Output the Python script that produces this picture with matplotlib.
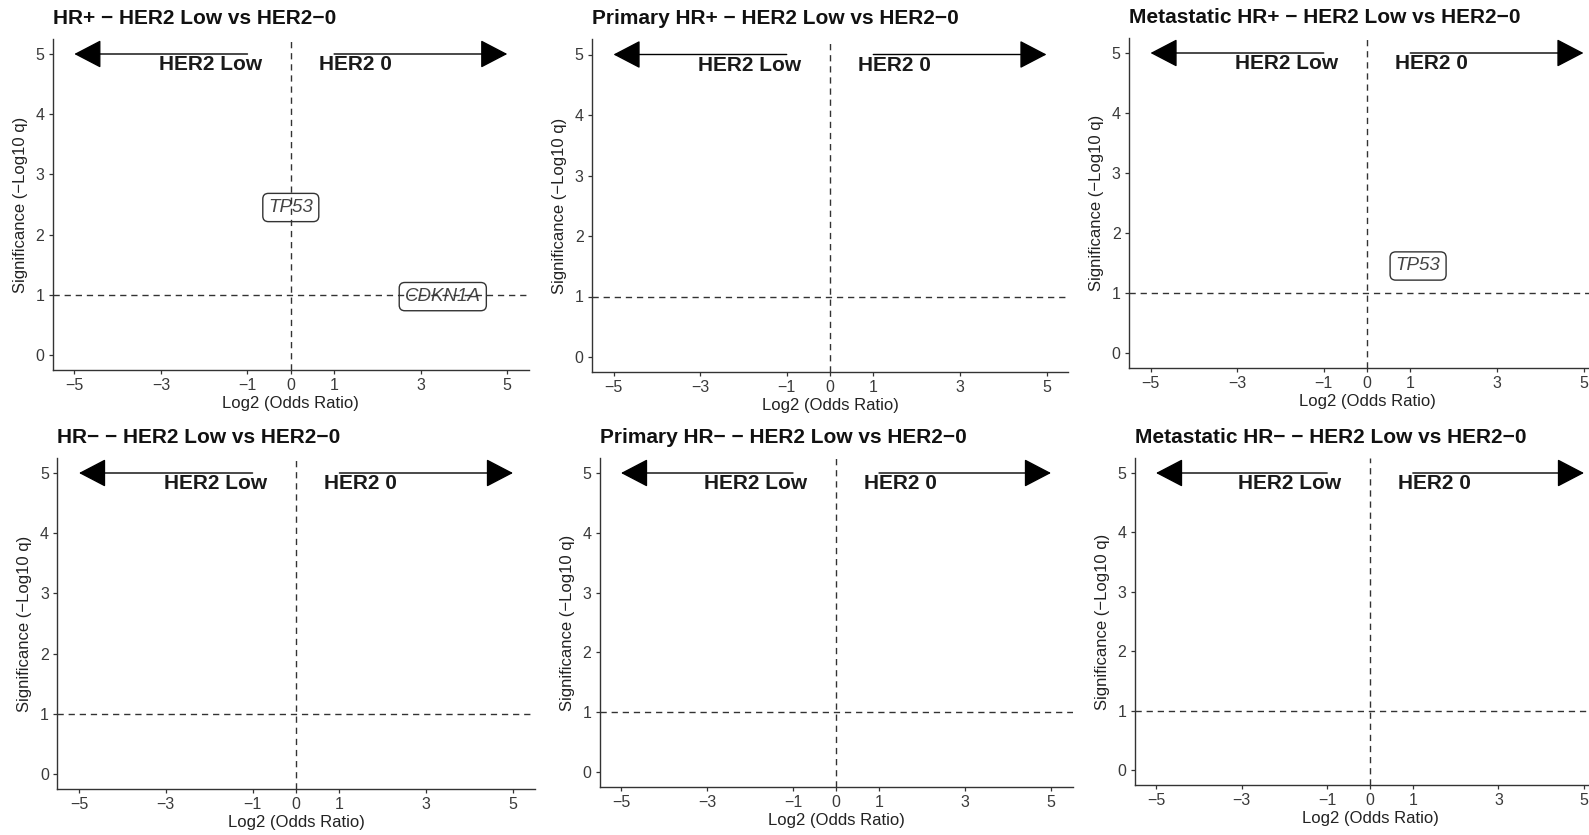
# Volcano-style panels: HER2 Low vs HER2-0 by HR status and sample type

import matplotlib
matplotlib.use('Agg')
import matplotlib.pyplot as plt

plt.rcParams['font.family'] = ['Liberation Sans', 'DejaVu Sans']

# Data
panel_titles = ['HR+ − HER2 Low vs HER2−0',
                'Primary HR+ − HER2 Low vs HER2−0',
                'Metastatic HR+ − HER2 Low vs HER2−0',
                'HR− − HER2 Low vs HER2−0',
                'Primary HR− − HER2 Low vs HER2−0',
                'Metastatic HR− − HER2 Low vs HER2−0']
genes = [['TP53', 'CDKN1A'], [], ['TP53'], [], [], []]
log2_or = [[0.0, 3.51], [], [1.18], [], [], []]
neglog10_q = [[2.45, 0.97], [], [1.45], [], [], []]
x_ticks = [-5, -3, -1, 0, 1, 3, 5]
y_ticks = [0, 1, 2, 3, 4, 5]
q_cut = 1
arrow_y = 5
arrow_from = 1
arrow_to = 5
side_labels = ['HER2 Low', 'HER2 0']

# Layout (pixels): x=0 position, px per x unit, y=0 position, px per y unit
W, H = 1589, 835
layout = [(290.8, 43.3, 355, 60.2), (830, 43.3, 357, 60.5), (1367, 43.3, 353, 60.0),
          (296, 43.4, 774, 60.2), (836, 43.0, 772, 59.8), (1370, 42.8, 770, 59.4)]
xlim = (-5.5, 5.5)
ylim = (-0.25, 5.25)

fig = plt.figure(figsize=(W / 100, H / 100), dpi=100)

for i, (x0, sx, y0, sy) in enumerate(layout):
    left = (x0 + xlim[0] * sx) / W
    width = (xlim[1] - xlim[0]) * sx / W
    top = y0 - ylim[1] * sy
    bottom = y0 - ylim[0] * sy
    ax = fig.add_axes([left, 1 - bottom / H, width, (bottom - top) / H])

    ax.set_xlim(xlim)
    ax.set_ylim(ylim)
    ax.set_xticks(x_ticks)
    ax.set_yticks(y_ticks)
    for s in ['top', 'right']:
        ax.spines[s].set_visible(False)
    for s in ['left', 'bottom']:
        ax.spines[s].set_color('#333333')
        ax.spines[s].set_linewidth(1.0)
    ax.tick_params(colors='#333333', labelcolor='#3a3a3a', labelsize=11.5,
                   length=3, width=0.9, pad=3)

    ax.axvline(0, color='#333333', lw=1.0, ls=(0, (4.5, 3.5)), zorder=3)
    ax.axhline(q_cut, color='#333333', lw=1.0, ls=(0, (4.5, 3.5)), zorder=3)

    # Direction arrows
    for sgn in (-1, 1):
        ax.annotate('', xy=(sgn * arrow_to, arrow_y), xytext=(sgn * arrow_from, arrow_y),
                    arrowprops=dict(arrowstyle='-|>,head_length=1.15,head_width=0.6',
                                    mutation_scale=15, color='black', lw=1.0,
                                    shrinkA=0, shrinkB=0))
    ax.text(-0.67, 4.82, side_labels[0], ha='right', va='center',
            fontsize=15, fontweight='bold', color='#1a1a1a')
    ax.text(0.65, 4.82, side_labels[1], ha='left', va='center',
            fontsize=15, fontweight='bold', color='#1a1a1a')

    # Gene labels
    for g, xv, yv in zip(genes[i], log2_or[i], neglog10_q[i]):
        ax.text(xv, yv, g, ha='center', va='center', fontsize=13.5, style='italic',
                color='#444444', zorder=2,
                bbox=dict(boxstyle='round,pad=0.3,rounding_size=0.3',
                          fc='white', ec='#333333', lw=1.0))

    ax.set_title(panel_titles[i], loc='left', fontsize=15, fontweight='bold',
                 color='#111111', pad=11)
    ax.set_xlabel('Log2 (Odds Ratio)', fontsize=12, color='#222222')
    ax.set_ylabel('Significance (−Log10 q)', fontsize=12, color='#222222')
    ax.xaxis.set_label_coords(0.5, -0.079)
    ax.yaxis.set_label_coords(-0.052, 0.5)

fig.savefig('out.png', dpi=100, facecolor='white')
